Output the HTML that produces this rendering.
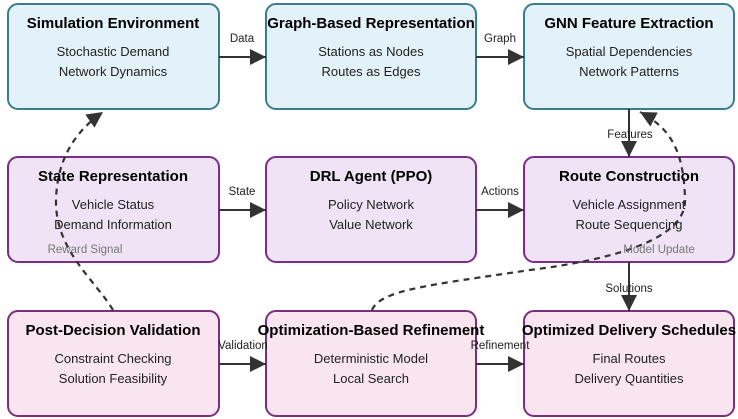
<!DOCTYPE html>
<html><head><style>
html,body{margin:0;padding:0;background:#fff;width:738px;height:419px;overflow:hidden}
svg text{font-family:"Liberation Sans",Arial,sans-serif}
.t{font-size:15px;font-weight:bold;fill:#000;text-anchor:middle}
.s{font-size:13px;fill:#222;text-anchor:middle}
.l{font-size:11.5px;fill:#222;text-anchor:middle}
.g{font-size:11.5px;fill:#777;text-anchor:middle}
.b1{fill:#e3f1f8;stroke:#3b7c8c;stroke-width:2}
.b2{fill:#f0e3f6;stroke:#7b2d8e;stroke-width:2}
.b3{fill:#f8e5f0;stroke:#7b2d7e;stroke-width:2}
.a{stroke:#333;stroke-width:2;fill:none}
.d{stroke:#333;stroke-width:2.2;fill:none;stroke-dasharray:6,5}
</style></head><body>
<svg width="738" height="419" viewBox="0 0 738 419">
<defs>
<marker id="h" viewBox="0 0 10 10" refX="10" refY="5" markerWidth="16" markerHeight="16" orient="auto" markerUnits="userSpaceOnUse"><path d="M0,0 L10,5 L0,10 z" fill="#333"/></marker></defs>

<rect class="b1" x="8" y="4" width="211" height="105" rx="10"/>
<rect class="b1" x="266" y="4" width="210" height="105" rx="10"/>
<rect class="b1" x="524" y="4" width="210" height="105" rx="10"/>
<rect class="b2" x="8" y="157" width="211" height="105" rx="10"/>
<rect class="b2" x="266" y="157" width="210" height="105" rx="10"/>
<rect class="b2" x="524" y="157" width="210" height="105" rx="10"/>
<rect class="b3" x="8" y="311" width="211" height="105" rx="10"/>
<rect class="b3" x="266" y="311" width="210" height="105" rx="10"/>
<rect class="b3" x="524" y="311" width="210" height="105" rx="10"/>

<line class="a" x1="219" y1="57" x2="266" y2="57" marker-end="url(#h)"/>
<line class="a" x1="476" y1="57" x2="524" y2="57" marker-end="url(#h)"/>
<line class="a" x1="219" y1="210" x2="266" y2="210" marker-end="url(#h)"/>
<line class="a" x1="476" y1="210" x2="524" y2="210" marker-end="url(#h)"/>
<line class="a" x1="219" y1="364" x2="266" y2="364" marker-end="url(#h)"/>
<line class="a" x1="476" y1="364" x2="524" y2="364" marker-end="url(#h)"/>
<line class="a" x1="629" y1="109" x2="629" y2="157" marker-end="url(#h)"/>
<line class="a" x1="629" y1="262" x2="629" y2="311" marker-end="url(#h)"/>

<path class="d" d="M113,310 C95,280 55,250 56,200 C57,165 70,135 103,112" marker-end="url(#h)"/>
<path class="d" d="M372,310 C380,290 430,285 530,270 C610,260 686,240 685,200 C684,150 670,128 640,112" marker-end="url(#h)"/>

<text class="l" x="242" y="42">Data</text>
<text class="l" x="500" y="42">Graph</text>
<text class="l" x="242" y="195">State</text>
<text class="l" x="500" y="195">Actions</text>
<text class="l" x="243" y="349">Validation</text>
<text class="l" x="500" y="349">Refinement</text>
<text class="l" x="630" y="138">Features</text>
<text class="l" x="629" y="292">Solutions</text>
<text class="g" x="85" y="253">Reward Signal</text>
<text class="g" x="659" y="253">Model Update</text>

<text class="t" x="113" y="28">Simulation Environment</text>
<text class="s" x="113" y="56">Stochastic Demand</text>
<text class="s" x="113" y="76">Network Dynamics</text>
<text class="t" x="371" y="28">Graph-Based Representation</text>
<text class="s" x="371" y="56">Stations as Nodes</text>
<text class="s" x="371" y="76">Routes as Edges</text>
<text class="t" x="629" y="28">GNN Feature Extraction</text>
<text class="s" x="629" y="56">Spatial Dependencies</text>
<text class="s" x="629" y="76">Network Patterns</text>

<text class="t" x="113" y="181">State Representation</text>
<text class="s" x="113" y="209">Vehicle Status</text>
<text class="s" x="113" y="229">Demand Information</text>
<text class="t" x="371" y="181">DRL Agent (PPO)</text>
<text class="s" x="371" y="209">Policy Network</text>
<text class="s" x="371" y="229">Value Network</text>
<text class="t" x="629" y="181">Route Construction</text>
<text class="s" x="629" y="209">Vehicle Assignment</text>
<text class="s" x="629" y="229">Route Sequencing</text>

<text class="t" x="113" y="335">Post-Decision Validation</text>
<text class="s" x="113" y="363">Constraint Checking</text>
<text class="s" x="113" y="383">Solution Feasibility</text>
<text class="t" x="371" y="335">Optimization-Based Refinement</text>
<text class="s" x="371" y="363">Deterministic Model</text>
<text class="s" x="371" y="383">Local Search</text>
<text class="t" x="629" y="335">Optimized Delivery Schedules</text>
<text class="s" x="629" y="363">Final Routes</text>
<text class="s" x="629" y="383">Delivery Quantities</text>
</svg>
</body></html>
